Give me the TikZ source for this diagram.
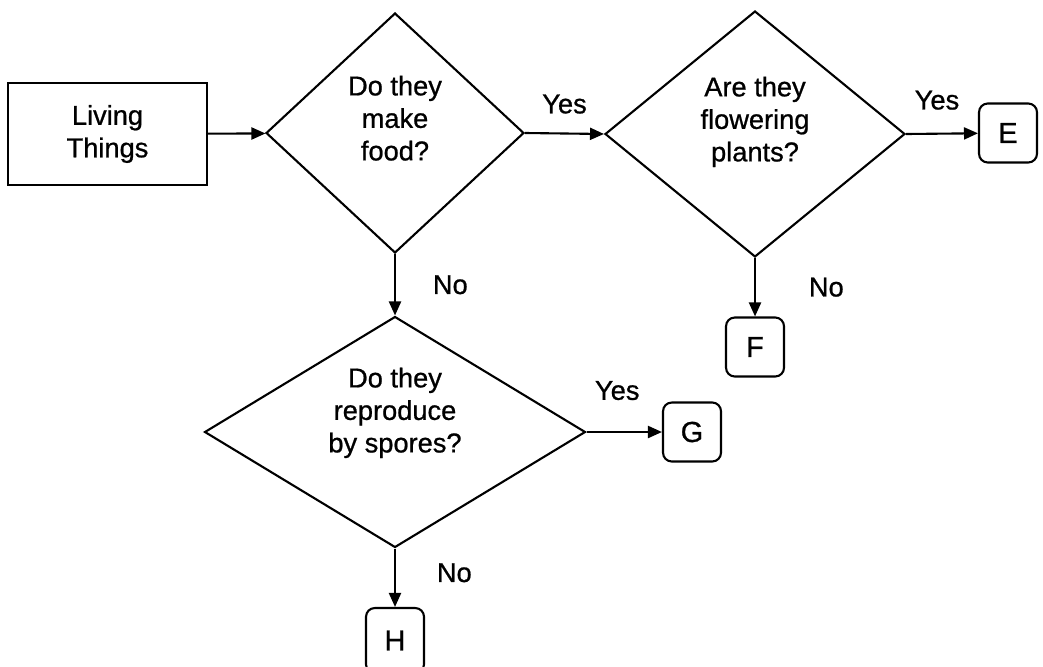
\documentclass[tikz,border=0pt]{standalone}
\usepackage{fontspec}
\setmainfont[FakeBold=0.8]{Liberation Sans}
\usetikzlibrary{shapes.geometric, arrows.meta}
\tikzset{
  block/.style={
    rectangle, draw=black, line width=1.2pt,
    minimum width=3.98cm, minimum height=2.04cm,
    align=center, font=\fontsize{15.5}{18.5}\selectfont
  },
  decision/.style={
    diamond, draw=black, line width=1.2pt, inner sep=0pt,
    align=center, text depth=0.6cm,
    font=\fontsize{15.5}{18.5}\selectfont
  },
  leaf/.style={
    rectangle, rounded corners=5pt, draw=black, line width=1.2pt,
    minimum width=1.16cm, minimum height=1.18cm,
    font=\fontsize{16.5}{19}\selectfont
  },
  answer/.style={font=\fontsize{15.5}{18.5}\selectfont},
  arrow/.style={-{Triangle[length=0.28cm, width=0.24cm]}, line width=1.2pt}
}
\begin{document}
\begin{tikzpicture}[x=0.02cm, y=-0.02cm]

  \useasboundingbox (0,0) rectangle (1043,666);

  \node[block] (living) at (107.5,134) {Living\\Things};

  \node[decision, minimum width=5.16cm, minimum height=4.8cm, aspect=1.07]
    (food) at (395,133) {Do they\\make\\food?};

  \node[decision, minimum width=6.0cm, minimum height=4.92cm, aspect=1.22]
    (flower) at (755,134) {Are they\\flowering\\plants?};

  \node[decision, minimum width=7.62cm, minimum height=4.62cm, aspect=1.65,
    text depth=0.88cm] (spores) at (395,432) {Do they\\reproduce\\by spores?};

  \node[leaf] (e) at (1008,133) {E};
  \node[leaf] (f) at (755,347) {F};
  \node[leaf] (g) at (692,432) {G};
  \node[leaf, minimum height=1.3cm] (h) at (395,640.5) {H};

  \draw[arrow] (living) -- (food);
  \draw[arrow] (food.east) -- node[answer, above=0.26cm]{Yes} (flower.west);
  \draw[arrow] (flower.east) -- node[answer, above=0.34cm, xshift=-0.1cm]{Yes} (e);
  \draw[arrow] (flower.south) -- node[answer, right=0.94cm]{No} (f);
  \draw[arrow] (food.south) -- node[answer, right=0.62cm]{No} (spores.north);
  \draw[arrow] (spores.east) -- node[answer, above=0.5cm, xshift=-0.14cm]{Yes} (g);
  \draw[arrow] (spores.south) -- node[answer, right=0.7cm, yshift=0.1cm]{No} (h);

\end{tikzpicture}
\end{document}
